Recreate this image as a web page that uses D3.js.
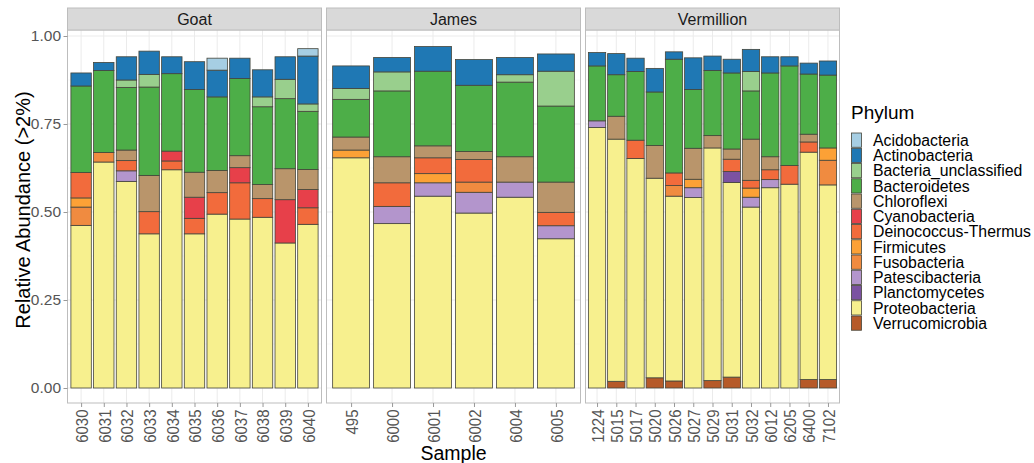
<!DOCTYPE html>
<html>
<head>
<meta charset="utf-8">
<script src="https://cdn.jsdelivr.net/npm/d3@7"></script>
<style>
  body { margin: 0; background: #fff; }
  svg { display: block; font-family: "Liberation Sans", Arial, sans-serif; }
</style>
</head>
<body>
<div id="chart"></div>
<script>
// Sites and their samples
const sites = ["Goat", "James", "Vermillion"];
const goatSamples = ["6030", "6031", "6032", "6033", "6034", "6035", "6036", "6037", "6038", "6039", "6040"];
const jamesSamples = ["495", "6000", "6001", "6002", "6004", "6005"];
const vermillionSamples = ["1224", "5015", "5017", "5020", "5026", "5027", "5029", "5031", "5032", "6012", "6205", "6400", "7102"];

const phyla = ["Acidobacteria", "Actinobacteria", "Bacteria_unclassified", "Bacteroidetes", "Chloroflexi",
  "Cyanobacteria", "Deinococcus-Thermus", "Firmicutes", "Fusobacteria", "Patescibacteria",
  "Planctomycetes", "Proteobacteria", "Verrucomicrobia"];
const phylumColors = ["#a6cee3", "#1f78b4", "#99cf8d", "#4dae48", "#b9956b",
  "#e7404a", "#f26b3c", "#fca136", "#f08b40", "#b395cc",
  "#7b52a1", "#f7f08e", "#b65a29"];

// Relative abundance per phylum; order = Goat (11), James (6), Vermillion (13)
const acidobacteria = [0, 0, 0, 0, 0, 0, .034, 0, 0, 0, .021,
  0, 0, 0, 0, 0, 0,
  0, 0, 0, 0, 0, 0, 0, 0, 0, 0, 0, 0, 0];
const actinobacteria = [.037, .023, .066, .066, .048, .079, .076, .058, .077, .064, .136,
  .064, .041, .070, .073, .049, .049,
  .038, .060, .038, .067, .021, .090, .041, .039, .063, .046, .026, .031, .040];
const bacteriaUnclassified = [0, 0, .021, .036, 0, 0, 0, 0, .028, .055, .021,
  .031, .054, 0, 0, .021, .099,
  0, 0, 0, 0, 0, 0, 0, 0, .055, 0, 0, 0, 0];
const bacteroidetes = [.246, .233, .178, .251, .220, .235, .209, .219, .221, .199, .165,
  .107, .187, .212, .188, .212, .216,
  .156, .118, .195, .152, .323, .167, .185, .216, .137, .238, .283, .171, .207];
const chloroflexi = [0, 0, .030, .103, 0, .071, .063, .034, .040, .088, .057,
  .037, .074, .034, .023, .072, .086,
  0, .065, 0, .093, 0, .088, .035, .029, .117, .037, 0, .022, 0];
const cyanobacteria = [0, 0, 0, 0, .028, .060, 0, .043, 0, .123, .052,
  0, 0, 0, 0, 0, 0,
  0, 0, 0, 0, 0, 0, 0, 0, 0, 0, 0, 0, 0];
const deinococcus = [.072, 0, .029, .063, .025, .044, .061, .103, .053, 0, .047,
  0, .067, .045, .064, 0, .038,
  0, 0, .052, 0, .036, 0, 0, .035, .022, .028, .053, .029, 0];
const firmicutes = [.026, 0, 0, 0, 0, 0, 0, 0, 0, 0, 0,
  .022, 0, .026, 0, 0, 0,
  0, 0, 0, 0, 0, .024, 0, 0, .026, 0, 0, 0, .035];
const fusobacteria = [.052, .027, 0, 0, 0, 0, 0, 0, 0, 0, 0,
  0, 0, 0, .029, 0, 0,
  0, 0, 0, 0, .030, 0, 0, 0, 0, 0, 0, 0, .070];
const patescibacteria = [0, 0, .030, 0, 0, 0, 0, 0, 0, 0, 0,
  0, .049, .038, .059, .043, .037,
  .019, 0, 0, 0, 0, .028, 0, 0, .028, .023, 0, 0, 0];
const planctomycetes = [0, 0, 0, 0, 0, 0, 0, 0, 0, 0, 0,
  0, 0, 0, 0, 0, 0,
  0, 0, 0, 0, 0, 0, 0, .031, 0, 0, 0, 0, 0];
const proteobacteria = [.462, .642, .587, .438, .620, .438, .494, .480, .485, .412, .465,
  .654, .467, .545, .497, .542, .424,
  .740, .688, .652, .567, .525, .541, .661, .553, .514, .569, .579, .646, .553];
const verrucomicrobia = [0, 0, 0, 0, 0, 0, 0, 0, 0, 0, 0,
  0, 0, 0, 0, 0, 0,
  0, .019, 0, .029, .020, 0, .021, .031, 0, 0, 0, .024, .024];

const yTicks = [0, 0.25, 0.5, 0.75, 1];

const series = [acidobacteria, actinobacteria, bacteriaUnclassified, bacteroidetes, chloroflexi,
  cyanobacteria, deinococcus, firmicutes, fusobacteria, patescibacteria,
  planctomycetes, proteobacteria, verrucomicrobia];
const sampleGroups = [goatSamples, jamesSamples, vermillionSamples];

// Build long table
const rows = [];
let idx = 0;
sampleGroups.forEach((group, si) => {
  group.forEach(s => {
    const row = { site: sites[si], sample: s };
    phyla.forEach((p, pi) => { row[p] = series[pi][idx]; });
    rows.push(row);
    idx++;
  });
});

const width = 1034, height = 463;
const svg = d3.select("#chart").append("svg")
  .attr("width", width).attr("height", height);

const panelTop = 30, panelBottom = 403, stripTop = 8;
const panelW = 254, panelGap = 5, panelLeft = 67.5;

const y = d3.scaleLinear().domain([0, 1]).range([388, 36]);
const color = d3.scaleOrdinal().domain(phyla).range(phylumColors);

// stack: Verrucomicrobia at bottom, Acidobacteria on top
const stack = d3.stack().keys(phyla.slice().reverse());

sites.forEach((site, si) => {
  const x0 = panelLeft + si * (panelW + panelGap);
  const samples = sampleGroups[si];
  const x = d3.scalePoint().domain(samples).range([x0, x0 + panelW]).padding(0.6);
  const bw = x.step() * 0.9;
  const g = svg.append("g");

  // panel background + grid
  g.append("rect").attr("x", x0).attr("y", panelTop).attr("width", panelW)
    .attr("height", panelBottom - panelTop).attr("fill", "#fff");
  const minor = d3.range(0.125, 1, 0.25);
  g.selectAll(".minor").data(minor).join("line")
    .attr("x1", x0).attr("x2", x0 + panelW)
    .attr("y1", d => y(d)).attr("y2", d => y(d))
    .attr("stroke", "#f5f5f5").attr("stroke-width", 0.6);
  g.selectAll(".hmaj").data(yTicks).join("line")
    .attr("x1", x0).attr("x2", x0 + panelW)
    .attr("y1", d => y(d)).attr("y2", d => y(d))
    .attr("stroke", "#ebebeb").attr("stroke-width", 1);
  g.selectAll(".vmaj").data(samples).join("line")
    .attr("x1", d => x(d)).attr("x2", d => x(d))
    .attr("y1", panelTop).attr("y2", panelBottom)
    .attr("stroke", "#ebebeb").attr("stroke-width", 1);

  // bars
  const data = rows.filter(r => r.site === site);
  const layers = stack(data);
  layers.forEach(layer => {
    g.append("g").selectAll("rect")
      .data(layer.filter(d => d[1] - d[0] > 0))
      .join("rect")
      .attr("x", d => x(d.data.sample) - bw / 2)
      .attr("width", bw)
      .attr("y", d => y(d[1]))
      .attr("height", d => y(d[0]) - y(d[1]))
      .attr("fill", color(layer.key))
      .attr("stroke", "#45453a")
      .attr("stroke-width", 0.8);
  });

  // panel border
  g.append("rect").attr("x", x0).attr("y", panelTop).attr("width", panelW)
    .attr("height", panelBottom - panelTop).attr("fill", "none")
    .attr("stroke", "#bdbdbd").attr("stroke-width", 1);

  // strip
  g.append("rect").attr("x", x0).attr("y", stripTop).attr("width", panelW)
    .attr("height", panelTop - stripTop).attr("fill", "#d9d9d9")
    .attr("stroke", "#bdbdbd").attr("stroke-width", 1);
  g.append("text").attr("x", x0 + panelW / 2).attr("y", (stripTop + panelTop) / 2)
    .attr("dy", "0.36em").attr("text-anchor", "middle")
    .attr("font-size", 16).attr("fill", "#1a1a1a").text(site);

  // x axis
  const gx = g.append("g").attr("transform", `translate(0,${panelBottom})`)
    .call(d3.axisBottom(x).tickSize(4).tickSizeOuter(0));
  gx.select(".domain").remove();
  gx.selectAll(".tick line").attr("stroke", "#999");
  gx.selectAll(".tick text")
    .attr("transform", "rotate(-90) scale(1,1.15)")
    .attr("x", -6.5).attr("y", 0).attr("dy", "0.36em")
    .attr("text-anchor", "end")
    .attr("font-size", 15).attr("fill", "#555");

  // y axis on first panel
  if (si === 0) {
    const gy = g.append("g").attr("transform", `translate(${x0},0)`)
      .call(d3.axisLeft(y).tickValues(yTicks).tickFormat(d3.format(".2f")).tickSize(4));
    gy.select(".domain").remove();
    gy.selectAll(".tick line").attr("stroke", "#999");
    gy.selectAll(".tick text").attr("font-size", 15.5).attr("fill", "#555").attr("x", -6.5);
  }
});

// axis titles
svg.append("text")
  .attr("transform", `translate(30,210) rotate(-90)`)
  .attr("text-anchor", "middle").attr("font-size", 20).attr("fill", "#000")
  .text("Relative Abundance (>2%)");
svg.append("text")
  .attr("x", panelLeft + (3 * panelW + 2 * panelGap) / 2).attr("y", 459.5)
  .attr("text-anchor", "middle").attr("font-size", 19.5).attr("fill", "#000")
  .text("Sample");

// legend
const legend = svg.append("g").attr("transform", "translate(836,0)");
legend.append("text").attr("x", 15).attr("y", 119).attr("font-size", 19)
  .attr("fill", "#000").text("Phylum");
const keyH = 15.25, keyTop = 132.5;
const items = legend.selectAll(".item").data(phyla).join("g")
  .attr("transform", (d, i) => `translate(0,${keyTop + i * keyH})`);
items.append("rect").attr("x", 15.5).attr("y", 0.5).attr("width", 10)
  .attr("height", keyH - 1).attr("fill", d => color(d))
  .attr("stroke", "#45453a").attr("stroke-width", 0.8);
items.append("text").attr("x", 37).attr("y", keyH / 2).attr("dy", "0.36em")
  .attr("font-size", 15.8).attr("fill", "#000").text(d => d);
</script>
</body>
</html>
